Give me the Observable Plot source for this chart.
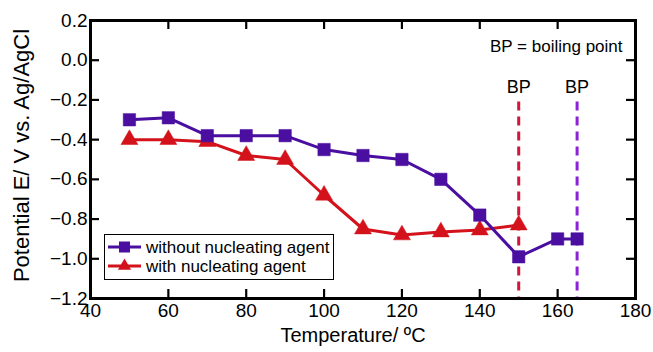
<!DOCTYPE html>
<html>
<head>
<meta charset="utf-8">
<script src="https://cdn.jsdelivr.net/npm/d3@7"></script>
<script src="https://cdn.jsdelivr.net/npm/@observablehq/plot@0.6"></script>
<style>
  html, body { margin: 0; padding: 0; background: #fff; }
  #wrap { position: relative; width: 653px; height: 352px; overflow: hidden; font-family: "Liberation Sans", Arial, sans-serif; }
  #legend { position: absolute; background: #fff; border: 1.5px solid #000; box-sizing: border-box; }
</style>
</head>
<body>
<div id="wrap"></div>
<script>
// ---- data ----
const tempWithout = [50, 60, 70, 80, 90, 100, 110, 120, 130, 140, 150, 160, 165];
const potWithout  = [-0.30, -0.29, -0.38, -0.38, -0.38, -0.45, -0.48, -0.50, -0.60, -0.78, -0.99, -0.90, -0.90];
const tempWith    = [50, 60, 70, 80, 90, 100, 110, 120, 130, 140, 150];
const potWith     = [-0.40, -0.40, -0.41, -0.48, -0.50, -0.68, -0.85, -0.88, -0.865, -0.855, -0.83];
const seriesNames = ["without nucleating agent", "with nucleating agent"];
const bpTemps     = [150, 165];
const bpTop       = -0.21;
const xTicks      = [40, 60, 80, 100, 120, 140, 160, 180];
const yTicks      = [-1.2, -1.0, -0.8, -0.6, -0.4, -0.2, 0.0, 0.2];

// ---- styles ----
const colWithout = "#4a0fa0";
const colWith    = "#d3121b";
const bpColors   = ["#d4143a", "#8a22d6"];
const W = 653, H = 352;
const mL = 90, mR = 18, mT = 20, mB = 54;
const pw = W - mL - mR, ph = H - mT - mB;
const tick = 9;

const dWithout = tempWithout.map((t, i) => ({t, v: potWithout[i]}));
const dWith = tempWith.map((t, i) => ({t, v: potWith[i]}));
const dBP = bpTemps.map((t, i) => ({t, c: bpColors[i]}));
const fmt = d => (d < -1e-9 ? "\u2212" : "") + Math.abs(d).toFixed(1);

const chart = Plot.plot({
  width: W, height: H,
  marginLeft: mL, marginRight: mR, marginTop: mT, marginBottom: mB,
  style: {fontFamily: "'Liberation Sans', Arial, sans-serif", fontSize: "19px", color: "#000", background: "#fff"},
  x: {domain: [40, 180]},
  y: {domain: [-1.2, 0.2]},
  marks: [
    Plot.axisX({ticks: xTicks, tickSize: 0, tickPadding: 5, label: null, fontSize: 19}),
    Plot.axisY({ticks: yTicks, tickSize: 0, tickPadding: 3, label: null, tickFormat: fmt, fontSize: 19}),
    // inward ticks
    Plot.ruleX(xTicks, {x: d => d, insetTop: ph - tick, stroke: "#000", strokeWidth: 2.2}),
    Plot.ruleX(xTicks, {x: d => d, insetBottom: ph - tick, stroke: "#000", strokeWidth: 2.2}),
    Plot.ruleY(yTicks, {y: d => d, insetRight: pw - tick, stroke: "#000", strokeWidth: 2.2}),
    Plot.ruleY(yTicks, {y: d => d, insetLeft: pw - tick, stroke: "#000", strokeWidth: 2.2}),
    // boiling point lines
    Plot.ruleX(dBP, {x: "t", y1: bpTop, y2: -1.2, stroke: "c", strokeWidth: 3, strokeDasharray: "9,6"}),
    Plot.text(dBP, {x: "t", y: bpTop, text: () => "BP", dy: -15, fontSize: 18, fill: "#000"}),
    Plot.text(["BP = boiling point"], {frameAnchor: "top-right", dx: -13, dy: 19, fontSize: 17, fill: "#000", textAnchor: "end"}),
    // series
    Plot.line(dWith, {x: "t", y: "v", stroke: colWith, strokeWidth: 3}),
    Plot.dot(dWith, {x: "t", y: "v", symbol: "triangle", r: 6.3, fill: colWith, stroke: colWith, strokeWidth: 0.5}),
    Plot.line(dWithout, {x: "t", y: "v", stroke: colWithout, strokeWidth: 3}),
    Plot.dot(dWithout, {x: "t", y: "v", symbol: "square", r: 7, fill: colWithout, stroke: colWithout, strokeWidth: 0.5}),
    // axis titles
    Plot.text(["Temperature/ ºC"], {frameAnchor: "bottom", dy: 43, dx: -10, fontSize: 20, fill: "#000"}),
    Plot.text(["Potential E/ V vs. Ag/AgCl"], {frameAnchor: "left", textAnchor: "middle", rotate: -90, dx: -69, dy: -4, fontSize: 22, fill: "#000"}),
    Plot.frame({stroke: "#000", strokeWidth: 3})
  ]
});
const wrap = document.getElementById("wrap");
wrap.appendChild(chart);

// ---- legend (overlay inside plot frame) ----
const leg = document.createElement("div");
leg.id = "legend";
Object.assign(leg.style, {left: "104px", top: "234px", width: "230px", height: "46px"});
wrap.appendChild(leg);
const ls = d3.select(leg).append("svg").attr("width", 228).attr("height", 44).style("display", "block");
const legItems = [
  {name: seriesNames[0], color: colWithout, sym: d3.symbolSquare2, size: Math.PI * 49},
  {name: seriesNames[1], color: colWith, sym: d3.symbolTriangle2, size: Math.PI * 6.3 * 6.3}
];
legItems.forEach((it, i) => {
  const cy = 12 + i * 19;
  ls.append("line").attr("x1", 3).attr("x2", 36).attr("y1", cy).attr("y2", cy)
    .attr("stroke", it.color).attr("stroke-width", 3);
  ls.append("path").attr("d", d3.symbol(it.sym, it.size)()).attr("transform", `translate(19.5,${cy})`)
    .attr("fill", it.color);
  ls.append("text").attr("x", 41).attr("y", cy).attr("dy", "0.35em")
    .attr("font-size", 17).attr("font-family", "'Liberation Sans', Arial, sans-serif").text(it.name);
});
</script>
</body>
</html>
